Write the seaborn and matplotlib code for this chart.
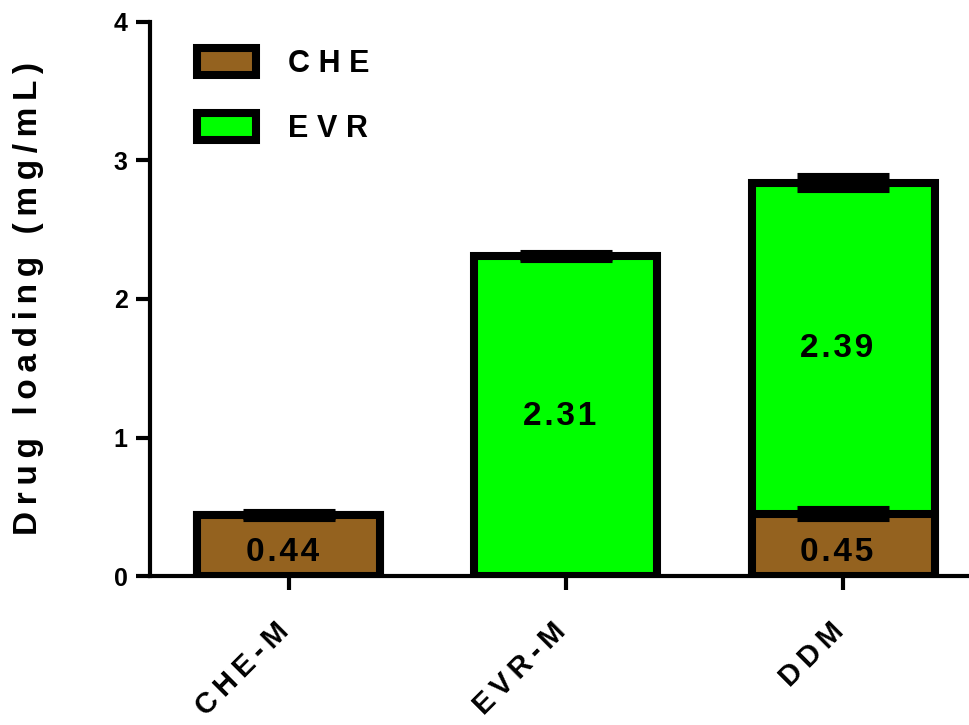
import matplotlib
matplotlib.use("Agg")
import matplotlib.pyplot as plt
from matplotlib.patches import Patch
from matplotlib.transforms import ScaledTranslation
import seaborn as sns
import pandas as pd
import numpy as np

# Drug loading per formulation (mg/mL)
formulations = ["CHE-M", "EVR-M", "DDM"]
che_loading = [0.44, 0.00, 0.45]
evr_loading = [0.00, 2.31, 2.39]
che_err = [0.01, 0.0, 0.02]
total_err = [0.01, 0.01, 0.03]
series_names = ["CHE", "EVR"]
yticks = [0, 1, 2, 3, 4]
ylabel = "Drug loading (mg/mL)"

che_color = "#94621F"
evr_color = "#00FF00"

sns.set_theme(style="ticks")
plt.rcParams["font.family"] = ["Liberation Sans", "DejaVu Sans"]
plt.rcParams["font.weight"] = "bold"
for key in ["text.color", "axes.labelcolor", "xtick.color", "ytick.color", "axes.edgecolor"]:
    plt.rcParams[key] = "black"

THIN = "\u2009"
HAIR = "\u200A"


def spaced(s, gap=THIN):
    """Loosen letter spacing of a label."""
    return gap.join(s)


df = pd.DataFrame({
    "formulation": formulations,
    "CHE": che_loading,
    "EVR": evr_loading,
})
df["total"] = df["CHE"] + df["EVR"]

fig = plt.figure(figsize=(9.69, 7.25), dpi=100)
ax = fig.add_axes([0.1548, 0.2055, 0.8442, 0.7642])

bar_w = 0.66
edge_lw = 5.8

# Stacked bars: total height (EVR colour) first, CHE drawn from zero on top
sns.barplot(data=df, x="formulation", y="total", color=evr_color, width=bar_w,
            edgecolor="black", linewidth=edge_lw, saturation=1, ax=ax, zorder=2)
sns.barplot(data=df, x="formulation", y="CHE", color=che_color, width=bar_w,
            edgecolor="black", linewidth=edge_lw, saturation=1, ax=ax, zorder=3)

for p in ax.patches:
    if p.get_height() == 0:
        p.set_visible(False)

xpos = np.arange(len(formulations))
cap_kw = dict(fmt="none", ecolor="black", elinewidth=4, capsize=33, capthick=8, zorder=5)
for i in range(len(formulations)):
    if df["CHE"][i] > 0 and df["EVR"][i] > 0:
        ax.errorbar(xpos[i], df["CHE"][i], yerr=che_err[i], **cap_kw)
    ax.errorbar(xpos[i], df["total"][i], yerr=total_err[i], **cap_kw)

# value labels inside segments
label_kw = dict(ha="center", va="center", fontsize=24, fontweight="bold", color="black",
                zorder=6, textcoords="offset points", xytext=(-4.5, 0))
for i in range(len(formulations)):
    if df["CHE"][i] > 0:
        ax.annotate(spaced(f"{df['CHE'][i]:.2f}", HAIR), (xpos[i], df["CHE"][i] * 0.38),
                    **label_kw)
    if df["EVR"][i] > 0:
        ax.annotate(spaced(f"{df['EVR'][i]:.2f}", HAIR),
                    (xpos[i], df["CHE"][i] + df["EVR"][i] / 2), **label_kw)

ax.set_xlim(-0.5, 2.45)
ax.set_ylim(0, 4)
ax.set_yticks(yticks)
ax.set_yticklabels([str(t) for t in yticks], fontsize=18, fontweight="bold")
ax.set_xticks(xpos)
ax.set_xticklabels([spaced(f) for f in formulations], fontsize=21, fontweight="bold",
                   rotation=45, ha="right", rotation_mode="anchor")
ax.set_xlabel("")
ax.set_ylabel(spaced(ylabel), fontsize=24, fontweight="bold", labelpad=50)

for side in ["top", "right"]:
    ax.spines[side].set_visible(False)
for side in ["left", "bottom"]:
    ax.spines[side].set_linewidth(3)
ax.tick_params(axis="both", length=10, width=3, direction="out")
ax.tick_params(axis="x", pad=20)
ax.tick_params(axis="y", pad=6)

shift = ScaledTranslation(-14 / 100, 0, fig.dpi_scale_trans)
for lab in ax.get_xticklabels():
    lab.set_transform(lab.get_transform() + shift)

handles = [Patch(facecolor=che_color, edgecolor="black", linewidth=edge_lw),
           Patch(facecolor=evr_color, edgecolor="black", linewidth=edge_lw)]
ax.legend(handles, [spaced(s, THIN + HAIR) for s in series_names], loc="upper left",
          bbox_to_anchor=(0.042, 0.975), frameon=False,
          prop={"size": 22, "weight": "bold"}, handlelength=1.93, handleheight=0.98,
          handletextpad=1.05, labelspacing=1.12, borderaxespad=0)

fig.savefig("out.png", dpi=100)
